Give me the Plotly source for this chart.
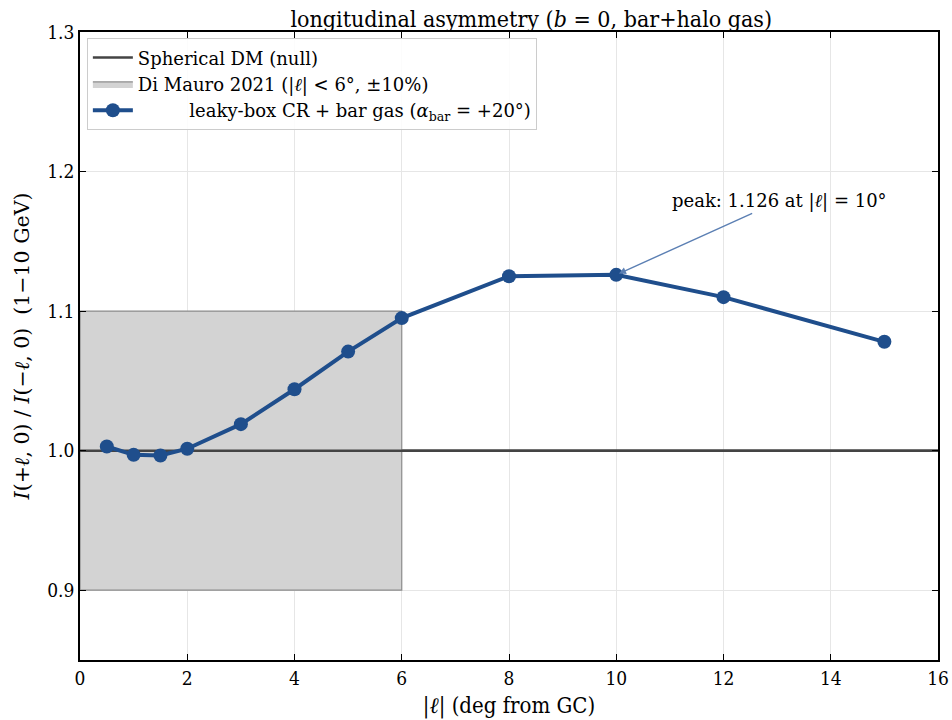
import plotly.graph_objects as go

ell = [0.5, 1, 1.5, 2, 3, 4, 5, 6, 8, 10, 12, 15]
ratio = [1.003, 0.997, 0.9965, 1.0014, 1.019, 1.044, 1.071, 1.095, 1.125, 1.126, 1.110, 1.078]
band_x = [0, 6]
band_y = [0.9, 1.1]
null_x = [0, 16]
null_y = [1.0, 1.0]
peak_x = 10
peak_y = 1.126

serif = "DejaVu Serif"
cond = "DejaVu Serif Condensed, DejaVu Serif"

fig = go.Figure()
fig.add_trace(go.Scatter(
    x=null_x, y=null_y, mode="lines", line=dict(color="#444444", width=2.5),
    name="Spherical DM (null)"))
fig.add_trace(go.Scatter(
    x=[band_x[0], band_x[1], band_x[1], band_x[0], band_x[0]],
    y=[band_y[0], band_y[0], band_y[1], band_y[1], band_y[0]],
    mode="lines", fill="toself", fillcolor="#d3d3d3",
    line=dict(color="#8c8c8c", width=1.2),
    name="Di Mauro 2021 (|<i>ℓ</i>| < 6°, ±10%)"))
# redraw null line above band
fig.add_trace(go.Scatter(
    x=null_x, y=null_y, mode="lines", line=dict(color="#444444", width=2.5),
    showlegend=False, hoverinfo="skip"))
fig.add_trace(go.Scatter(
    x=ell, y=ratio, mode="lines+markers",
    line=dict(color="#1f4e8c", width=4),
    marker=dict(color="#1f4e8c", size=14),
    name="&nbsp;&nbsp;&nbsp;&nbsp;&nbsp;&nbsp;&nbsp;&nbsp;&nbsp;leaky-box CR + bar gas (<i>α</i><sub>bar</sub> = +20°)"))

fig.add_annotation(
    x=peak_x, y=peak_y, ax=13.05, ay=1.179, xref="x", yref="y", axref="x", ayref="y",
    text="peak: 1.126 at |<i>ℓ</i>| = 10°", showarrow=True, arrowhead=2, arrowsize=1,
    arrowwidth=1.4, arrowcolor="#5b7fb3", standoff=3,
    font=dict(family=serif, size=18, color="black"))

axis_common = dict(
    showline=True, linecolor="black", linewidth=1.5, mirror="allticks",
    ticks="inside", ticklen=6, tickwidth=1, tickcolor="black",
    showgrid=True, gridcolor="#e6e6e6", gridwidth=1, zeroline=False,
    tickfont=dict(family=cond, size=19, color="black"))

fig.update_xaxes(range=[0, 16], dtick=2, tick0=0, automargin=False,
                 ticklabeloverflow="allow",
                 title=dict(text="|<i>ℓ</i>| (deg from GC)", font=dict(family=cond, size=22, color="black"), standoff=10),
                 **axis_common)
fig.update_yaxes(range=[0.85, 1.3], tickvals=[0.9, 1.0, 1.1, 1.2, 1.3],
                 ticktext=["0.9", "1.0", "1.1", "1.2", "1.3"], automargin=False,
                 title=dict(text="<i>I</i>(+<i>ℓ</i>, 0) / <i>I</i>(−<i>ℓ</i>, 0)  (1−10 GeV)",
                            font=dict(family=serif, size=20.5, color="black"), standoff=12),
                 **axis_common)

fig.update_layout(
    width=952, height=720,
    margin=dict(l=80, r=14, t=32, b=60, autoexpand=False),
    paper_bgcolor="white", plot_bgcolor="white",
    title=dict(text="longitudinal asymmetry (<i>b</i> = 0, bar+halo gas)",
               font=dict(family=cond, size=23, color="black"),
               x=0.558, xanchor="center", y=0.985, yanchor="top"),
    legend=dict(x=0.008, y=0.99, xanchor="left", yanchor="top",
                bgcolor="rgba(255,255,255,0.85)", bordercolor="#cccccc", borderwidth=1,
                font=dict(family=serif, size=18, color="black"), itemwidth=40,
                tracegroupgap=2),
    showlegend=True,
)

fig.write_html("out.html")
